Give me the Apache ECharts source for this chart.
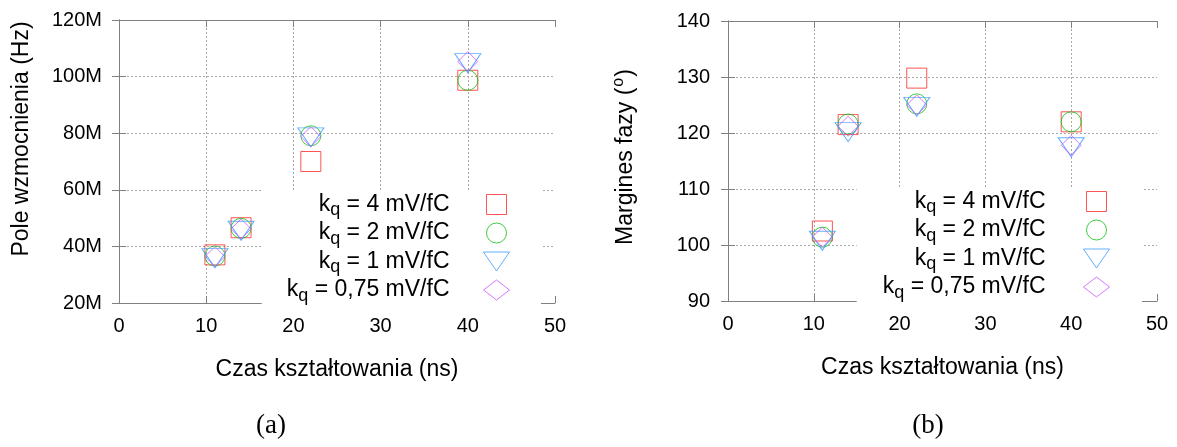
<!DOCTYPE html>
<html>
<head>
<meta charset="utf-8">
<script src="https://cdn.jsdelivr.net/npm/echarts@6/dist/echarts.min.js"></script>
<style>
  html, body { margin: 0; padding: 0; background: #fff; }
  #chart { width: 1177px; height: 447px; }
</style>
</head>
<body>
<div id="chart"></div>
<script>
// Shaping times (ns)
const shapingTimes = [11, 14, 22, 40];

// Charge gain values (mV/fC), used in series names
const kqValues = ['4', '2', '1', '0,75'];

// Gain-bandwidth product (Hz) per charge gain
const gbwKq4   = [37.0e6, 46.6e6, 70.0e6, 98.7e6];
const gbwKq2   = [36.6e6, 46.4e6, 79.1e6, 98.7e6];
const gbwKq1   = [36.9e6, 46.6e6, 79.6e6, 105.8e6];
const gbwKq075 = [36.4e6, 46.2e6, 78.8e6, 105.3e6];

// Phase margin (degrees) per charge gain
const pmKq4   = [102.5, 121.5, 129.8, 122.0];
const pmKq2   = [101.4, 121.6, 125.2, 122.0];
const pmKq1   = [101.3, 120.7, 125.2, 118.0];
const pmKq075 = [101.4, 121.2, 125.0, 117.8];

// Axis ranges
const xRange   = { min: 0, max: 50, interval: 10 };
const gbwRange = { min: 20e6, max: 120e6, interval: 20e6 };
const pmRange  = { min: 90, max: 140, interval: 10 };

const FONT = 'Liberation Sans';
const frameColor = '#808080';
const colors = ['#ff2a2a', '#10c010', '#3b9bff', '#cc55ff'];
const squarePath = 'path://M0,0L20,0L20,20L0,20Z';
const triPath = 'path://M0,0L26,0L13,19Z';
const symbols = [
  { symbol: 'rect', size: 20, offset: [0, 0] },
  { symbol: 'circle', size: 20, offset: [0, 0] },
  { symbol: triPath, size: [26, 19], offset: [0, 3] },
  { symbol: 'diamond', size: 20, offset: [0, 0] }
];
const names = kqValues.map(v => 'k_q = ' + v + ' mV/fC');

function pairs(ys) { return shapingTimes.map((x, i) => [x, ys[i]]); }

function makeSeries(sets, gridIdx) {
  return sets.map((ys, i) => ({
    type: 'scatter',
    name: names[i],
    xAxisIndex: gridIdx * 2,
    yAxisIndex: gridIdx * 2,
    data: pairs(ys),
    symbol: symbols[i].symbol,
    symbolSize: symbols[i].size,
    symbolOffset: symbols[i].offset,
    itemStyle: { color: 'transparent', borderColor: colors[i], borderWidth: 1 },
    emphasis: { disabled: true },
    z: 3 + i
  }));
}

function xAxes(gridIdx) {
  const common = Object.assign({ type: 'value', gridIndex: gridIdx }, xRange);
  return [
    Object.assign({}, common, {
      position: 'bottom',
      name: 'Czas kształtowania (ns)',
      nameLocation: 'middle',
      nameGap: 55,
      nameTextStyle: { fontFamily: FONT, fontSize: 23, color: '#000' },
      axisLine: { show: true, lineStyle: { color: frameColor, width: 1 } },
      axisTick: { show: true, inside: true, length: 7, lineStyle: { color: frameColor } },
      axisLabel: { fontFamily: FONT, fontSize: 20, color: '#000', margin: 13 },
      splitLine: { show: true, showMinLine: false, showMaxLine: false,
                   lineStyle: { color: '#a8a8a8', type: [2, 2], width: 1 } }
    }),
    Object.assign({}, common, {
      position: 'top',
      axisLine: { show: true, lineStyle: { color: frameColor, width: 1 } },
      axisTick: { show: true, inside: true, length: 7, lineStyle: { color: frameColor } },
      axisLabel: { show: false },
      splitLine: { show: false }
    })
  ];
}

function yAxes(gridIdx, range, nameCfg, fmt, labelMargin) {
  const common = Object.assign({ type: 'value', gridIndex: gridIdx }, range);
  return [
    Object.assign({}, common, {
      position: 'left',
      name: nameCfg.text,
      nameLocation: 'middle',
      nameRotate: 90,
      nameGap: nameCfg.gap,
      nameTextStyle: Object.assign({ fontFamily: FONT, fontSize: 23, color: '#000' }, nameCfg.style),
      axisLine: { show: true, lineStyle: { color: frameColor, width: 1 } },
      axisTick: { show: true, inside: true, length: 7, lineStyle: { color: frameColor } },
      axisLabel: { fontFamily: FONT, fontSize: 20, color: '#000', margin: labelMargin, formatter: fmt },
      splitLine: { show: true, showMinLine: false, showMaxLine: false,
                   lineStyle: { color: '#a8a8a8', type: [2, 2], width: 1 } }
    }),
    Object.assign({}, common, {
      position: 'right',
      axisLine: { show: true, lineStyle: { color: frameColor, width: 1 } },
      axisTick: { show: true, inside: true, length: 7, lineStyle: { color: frameColor } },
      axisLabel: { show: false },
      splitLine: { show: false }
    })
  ];
}

// Legend label: "k" with subscript "q", then the gain value
const legendRich = {
  k: { fontFamily: FONT, fontSize: 23, color: '#000', lineHeight: 20 },
  q: { fontFamily: FONT, fontSize: 18, color: '#000', lineHeight: 20, padding: [0, 0, -12, 0] },
  t: { fontFamily: FONT, fontSize: 23, color: '#000', lineHeight: 20 }
};
const legendIcons = [squarePath, 'circle', triPath, 'diamond'];

function makeLegend(pos, textGap) {
  return Object.assign({
    orient: 'vertical',
    align: 'right',
    itemWidth: 26,
    itemHeight: 20,
    itemGap: 2,
    backgroundColor: '#fff',
    selectedMode: false,
    data: names.map((n, i) => ({
      name: n,
      icon: legendIcons[i],
      itemStyle: { color: 'transparent', borderColor: colors[i], borderWidth: 1 }
    })),
    formatter: n => '{k|k}{q|q}{t|' + n.slice(3) + '}',
    textStyle: { padding: [0, textGap, 0, 0], lineHeight: 20, rich: legendRich },
    z: 10
  }, pos);
}

const option = {
  animation: false,
  backgroundColor: '#fff',
  grid: [
    { left: 119, right: 622, top: 20, bottom: 144 },
    { left: 728, right: 20, top: 21, bottom: 146 }
  ],
  xAxis: xAxes(0).concat(xAxes(1)),
  yAxis: yAxes(0, gbwRange,
               { text: 'Pole wzmocnienia (Hz)', gap: 86, style: { padding: [0, 0, 0, 45] } },
               v => (v / 1e6) + 'M', 17)
    .concat(yAxes(1, pmRange,
               { text: '{t|Margines fazy (}{s|o}{t|)}', gap: 87,
                 style: { padding: [0, 0, 0, 8],
                          rich: { t: { fontFamily: FONT, fontSize: 23, color: '#000' },
                                  s: { fontFamily: FONT, fontSize: 16, color: '#000', padding: [0, 1, 14, 1] } } } },
               v => String(v), 18)),
  legend: [
    makeLegend({ right: 636, top: 190, padding: [3, 31, 0, 25] }, 29),
    makeLegend({ right: 35, top: 188, padding: [2, 32, 0, 26] }, 33)
  ],
  graphic: [
    { type: 'text', x: 271, y: 426, style: { text: '(a)', font: '27px "Liberation Serif"', fill: '#000', align: 'center', verticalAlign: 'middle' } },
    { type: 'text', x: 928, y: 426, style: { text: '(b)', font: '27px "Liberation Serif"', fill: '#000', align: 'center', verticalAlign: 'middle' } }
  ],
  series: makeSeries([gbwKq4, gbwKq2, gbwKq1, gbwKq075], 0)
    .concat(makeSeries([pmKq4, pmKq2, pmKq1, pmKq075], 1))
};

const chart = echarts.init(document.getElementById('chart'), null, { renderer: 'canvas' });
chart.setOption(option);
</script>
</body>
</html>
